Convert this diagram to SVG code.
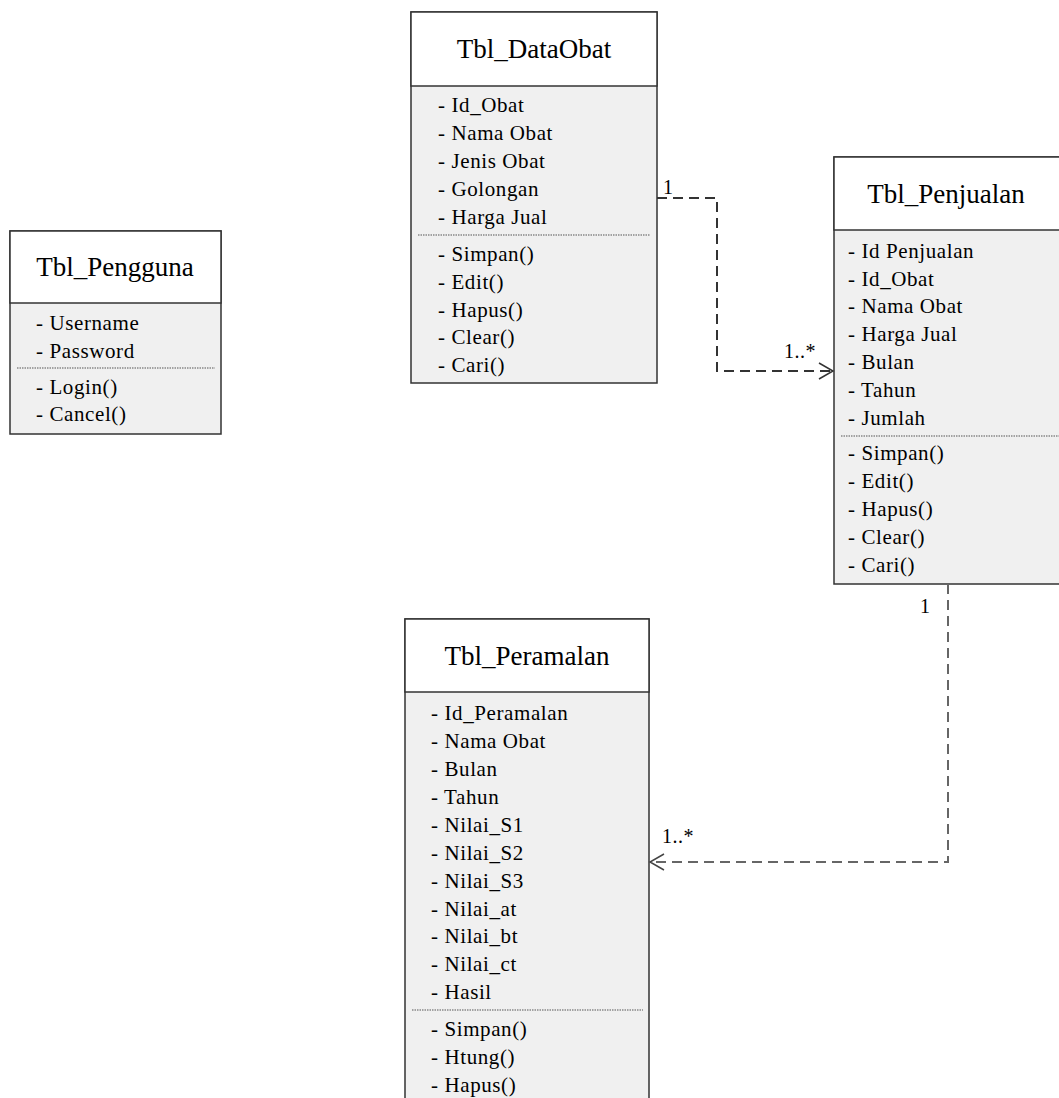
<svg xmlns="http://www.w3.org/2000/svg" width="1059" height="1098" viewBox="0 0 1059 1098">
<defs>
<style>
.box{fill:#f0f0f0;stroke:#333;stroke-width:1.5}
.head{fill:#fff;stroke:#333;stroke-width:1.5}
.sep{stroke:#555;stroke-width:1.2;stroke-dasharray:1.5 1}
.title{font-family:"Liberation Serif",serif;font-size:27px;fill:#000;text-anchor:middle}
.row{font-family:"Liberation Serif",serif;font-size:21px;fill:#000;letter-spacing:0.6px}
.lbl{font-family:"Liberation Serif",serif;font-size:20px;fill:#000;letter-spacing:0.5px}
.conn{fill:none;stroke-width:2;stroke-dasharray:10 6}
.arrow{fill:none;stroke-width:1.5}
</style>
</defs>
<g id="Tbl_DataObat">
<rect class="box" x="411" y="12" width="246" height="371"/>
<rect class="head" x="411" y="12" width="246" height="74"/>
<text class="title" x="534" y="58">Tbl_DataObat</text>
<line class="sep" x1="418" y1="235" x2="650" y2="235"/>
<text class="row" x="438" y="112">- Id_Obat</text>
<text class="row" x="438" y="140">- Nama Obat</text>
<text class="row" x="438" y="168">- Jenis Obat</text>
<text class="row" x="438" y="196">- Golongan</text>
<text class="row" x="438" y="224">- Harga Jual</text>
<text class="row" x="438" y="261">- Simpan()</text>
<text class="row" x="438" y="289">- Edit()</text>
<text class="row" x="438" y="317">- Hapus()</text>
<text class="row" x="438" y="344">- Clear()</text>
<text class="row" x="438" y="372">- Cari()</text>
</g>
<g id="Tbl_Penjualan">
<rect class="box" x="834" y="157" width="240" height="427"/>
<rect class="head" x="834" y="157" width="240" height="73"/>
<text class="title" x="946" y="203">Tbl_Penjualan</text>
<line class="sep" x1="841" y1="436" x2="1059" y2="436"/>
<text class="row" x="848" y="258">- Id Penjualan</text>
<text class="row" x="848" y="286">- Id_Obat</text>
<text class="row" x="848" y="313">- Nama Obat</text>
<text class="row" x="848" y="341">- Harga Jual</text>
<text class="row" x="848" y="369">- Bulan</text>
<text class="row" x="848" y="397">- Tahun</text>
<text class="row" x="848" y="425">- Jumlah</text>
<text class="row" x="848" y="460">- Simpan()</text>
<text class="row" x="848" y="488">- Edit()</text>
<text class="row" x="848" y="516">- Hapus()</text>
<text class="row" x="848" y="544">- Clear()</text>
<text class="row" x="848" y="572">- Cari()</text>
</g>
<g id="Tbl_Pengguna">
<rect class="box" x="10" y="231" width="211" height="203"/>
<rect class="head" x="10" y="231" width="211" height="72"/>
<text class="title" x="115" y="276">Tbl_Pengguna</text>
<line class="sep" x1="17" y1="368" x2="215" y2="368"/>
<text class="row" x="36" y="330">- Username</text>
<text class="row" x="36" y="358">- Password</text>
<text class="row" x="36" y="394">- Login()</text>
<text class="row" x="36" y="421">- Cancel()</text>
</g>
<g id="Tbl_Peramalan">
<rect class="box" x="405" y="619" width="244" height="500"/>
<rect class="head" x="405" y="619" width="244" height="73"/>
<text class="title" x="527" y="665">Tbl_Peramalan</text>
<line class="sep" x1="412" y1="1010" x2="643" y2="1010"/>
<text class="row" x="431" y="720">- Id_Peramalan</text>
<text class="row" x="431" y="748">- Nama Obat</text>
<text class="row" x="431" y="776">- Bulan</text>
<text class="row" x="431" y="804">- Tahun</text>
<text class="row" x="431" y="832">- Nilai_S1</text>
<text class="row" x="431" y="860">- Nilai_S2</text>
<text class="row" x="431" y="888">- Nilai_S3</text>
<text class="row" x="431" y="916">- Nilai_at</text>
<text class="row" x="431" y="943">- Nilai_bt</text>
<text class="row" x="431" y="971">- Nilai_ct</text>
<text class="row" x="431" y="999">- Hasil</text>
<text class="row" x="431" y="1036">- Simpan()</text>
<text class="row" x="431" y="1064">- Htung()</text>
<text class="row" x="431" y="1092">- Hapus()</text>
</g>
<g id="connectors">
<polyline class="conn" stroke="#333" points="657,198 717,198 717,371 832,371"/>
<polyline class="arrow" stroke="#333" points="819,363 833,371 819,379"/>
<text class="lbl" x="663" y="194">1</text>
<text class="lbl" x="784" y="358">1..*</text>
<polyline class="conn" stroke="#666" points="948,584 948,862 651,862"/>
<polyline class="arrow" stroke="#444" points="664,854 650,862 664,870"/>
<text class="lbl" x="920" y="613">1</text>
<text class="lbl" x="662" y="843">1..*</text>
</g>
</svg>
